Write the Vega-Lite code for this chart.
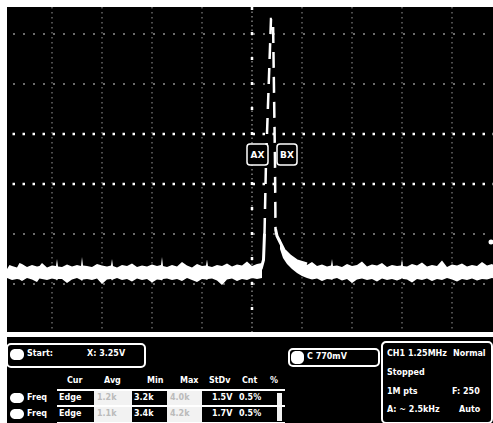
{
  "$schema": "https://vega.github.io/schema/vega-lite/v6.json",
  "background": "white",
  "padding": {"left": 5, "top": 5, "right": 0, "bottom": 0},
  "spacing": 3,
  "config": {
    "view": {"stroke": null, "fill": "black"},
    "text": {"font": "DejaVu Sans", "fontWeight": "bold", "fontSize": 9, "color": "white", "align": "left", "baseline": "middle"}
  },
  "datasets": {
    "noise": [
      {"seg": "a", "x": -4.9, "hi": 0.30, "lo": 0.12},
      {"seg": "a", "x": -4.85, "hi": 0.38, "lo": 0.10},
      {"seg": "a", "x": -4.8, "hi": 0.36, "lo": 0.08},
      {"seg": "a", "x": -4.7, "hi": 0.33, "lo": 0.10},
      {"seg": "a", "x": -4.65, "hi": 0.42, "lo": 0.09},
      {"seg": "a", "x": -4.6, "hi": 0.40, "lo": 0.06},
      {"seg": "a", "x": -4.5, "hi": 0.34, "lo": 0.12},
      {"seg": "a", "x": -4.4, "hi": 0.38, "lo": 0.09},
      {"seg": "a", "x": -4.3, "hi": 0.35, "lo": 0.04},
      {"seg": "a", "x": -4.25, "hi": 0.36, "lo": 0.11},
      {"seg": "a", "x": -4.2, "hi": 0.42, "lo": 0.10},
      {"seg": "a", "x": -4.1, "hi": 0.33, "lo": 0.08},
      {"seg": "a", "x": -4.0, "hi": 0.37, "lo": 0.11},
      {"seg": "a", "x": -3.92, "hi": 0.36, "lo": 0.09},
      {"seg": "a", "x": -3.9, "hi": 0.50, "lo": 0.07},
      {"seg": "a", "x": -3.88, "hi": 0.35, "lo": 0.10},
      {"seg": "a", "x": -3.8, "hi": 0.34, "lo": 0.10},
      {"seg": "a", "x": -3.7, "hi": 0.39, "lo": 0.02},
      {"seg": "a", "x": -3.6, "hi": 0.35, "lo": 0.09},
      {"seg": "a", "x": -3.5, "hi": 0.38, "lo": 0.12},
      {"seg": "a", "x": -3.42, "hi": 0.36, "lo": 0.08},
      {"seg": "a", "x": -3.4, "hi": 0.54, "lo": 0.06},
      {"seg": "a", "x": -3.38, "hi": 0.37, "lo": 0.09},
      {"seg": "a", "x": -3.3, "hi": 0.36, "lo": 0.10},
      {"seg": "a", "x": -3.2, "hi": 0.34, "lo": 0.08},
      {"seg": "a", "x": -3.1, "hi": 0.40, "lo": 0.11},
      {"seg": "a", "x": -3.0, "hi": 0.37, "lo": 0.00},
      {"seg": "a", "x": -2.9, "hi": 0.35, "lo": 0.09},
      {"seg": "a", "x": -2.82, "hi": 0.37, "lo": 0.10},
      {"seg": "a", "x": -2.8, "hi": 0.50, "lo": 0.07},
      {"seg": "a", "x": -2.78, "hi": 0.36, "lo": 0.09},
      {"seg": "a", "x": -2.7, "hi": 0.33, "lo": 0.12},
      {"seg": "a", "x": -2.6, "hi": 0.38, "lo": 0.08},
      {"seg": "a", "x": -2.5, "hi": 0.36, "lo": 0.10},
      {"seg": "a", "x": -2.4, "hi": 0.41, "lo": 0.05},
      {"seg": "a", "x": -2.3, "hi": 0.34, "lo": 0.11},
      {"seg": "a", "x": -2.2, "hi": 0.37, "lo": 0.08},
      {"seg": "a", "x": -2.1, "hi": 0.35, "lo": 0.10},
      {"seg": "a", "x": -2.0, "hi": 0.39, "lo": 0.03},
      {"seg": "a", "x": -1.9, "hi": 0.36, "lo": 0.09},
      {"seg": "a", "x": -1.82, "hi": 0.38, "lo": 0.08},
      {"seg": "a", "x": -1.8, "hi": 0.54, "lo": 0.07},
      {"seg": "a", "x": -1.78, "hi": 0.36, "lo": 0.10},
      {"seg": "a", "x": -1.7, "hi": 0.34, "lo": 0.11},
      {"seg": "a", "x": -1.6, "hi": 0.38, "lo": 0.08},
      {"seg": "a", "x": -1.5, "hi": 0.35, "lo": 0.10},
      {"seg": "a", "x": -1.4, "hi": 0.44, "lo": 0.06},
      {"seg": "a", "x": -1.3, "hi": 0.37, "lo": 0.12},
      {"seg": "a", "x": -1.2, "hi": 0.33, "lo": 0.08},
      {"seg": "a", "x": -1.1, "hi": 0.40, "lo": 0.04},
      {"seg": "a", "x": -1.0, "hi": 0.36, "lo": 0.10},
      {"seg": "a", "x": -0.92, "hi": 0.37, "lo": 0.09},
      {"seg": "a", "x": -0.9, "hi": 0.49, "lo": 0.08},
      {"seg": "a", "x": -0.88, "hi": 0.36, "lo": 0.10},
      {"seg": "a", "x": -0.8, "hi": 0.34, "lo": 0.11},
      {"seg": "a", "x": -0.7, "hi": 0.38, "lo": 0.07},
      {"seg": "a", "x": -0.6, "hi": 0.36, "lo": -0.02},
      {"seg": "a", "x": -0.5, "hi": 0.41, "lo": 0.09},
      {"seg": "a", "x": -0.4, "hi": 0.35, "lo": 0.11},
      {"seg": "a", "x": -0.3, "hi": 0.39, "lo": 0.06},
      {"seg": "a", "x": -0.2, "hi": 0.37, "lo": 0.10},
      {"seg": "a", "x": -0.1, "hi": 0.45, "lo": 0.08},
      {"seg": "a", "x": 0.0, "hi": 0.36, "lo": 0.12},
      {"seg": "a", "x": 0.1, "hi": 0.40, "lo": 0.10},
      {"seg": "a", "x": 0.2, "hi": 0.42, "lo": 0.12},
      {"seg": "b", "x": 0.56, "hi": 0.90, "lo": 0.70},
      {"seg": "b", "x": 0.62, "hi": 0.74, "lo": 0.52},
      {"seg": "b", "x": 0.70, "hi": 0.62, "lo": 0.40},
      {"seg": "b", "x": 0.80, "hi": 0.52, "lo": 0.30},
      {"seg": "b", "x": 0.90, "hi": 0.46, "lo": 0.22},
      {"seg": "b", "x": 1.0, "hi": 0.42, "lo": 0.16},
      {"seg": "b", "x": 1.1, "hi": 0.38, "lo": 0.12},
      {"seg": "b", "x": 1.2, "hi": 0.44, "lo": 0.09},
      {"seg": "b", "x": 1.3, "hi": 0.36, "lo": 0.11},
      {"seg": "b", "x": 1.4, "hi": 0.39, "lo": 0.06},
      {"seg": "b", "x": 1.5, "hi": 0.35, "lo": 0.10},
      {"seg": "b", "x": 1.58, "hi": 0.37, "lo": 0.09},
      {"seg": "b", "x": 1.6, "hi": 0.50, "lo": 0.08},
      {"seg": "b", "x": 1.62, "hi": 0.36, "lo": 0.10},
      {"seg": "b", "x": 1.7, "hi": 0.37, "lo": 0.12},
      {"seg": "b", "x": 1.8, "hi": 0.34, "lo": 0.07},
      {"seg": "b", "x": 1.9, "hi": 0.40, "lo": 0.10},
      {"seg": "b", "x": 2.0, "hi": 0.36, "lo": 0.02},
      {"seg": "b", "x": 2.1, "hi": 0.38, "lo": 0.09},
      {"seg": "b", "x": 2.2, "hi": 0.45, "lo": 0.11},
      {"seg": "b", "x": 2.3, "hi": 0.35, "lo": 0.08},
      {"seg": "b", "x": 2.4, "hi": 0.39, "lo": 0.10},
      {"seg": "b", "x": 2.5, "hi": 0.37, "lo": 0.05},
      {"seg": "b", "x": 2.6, "hi": 0.42, "lo": 0.11},
      {"seg": "b", "x": 2.7, "hi": 0.34, "lo": 0.08},
      {"seg": "b", "x": 2.8, "hi": 0.38, "lo": 0.10},
      {"seg": "b", "x": 2.9, "hi": 0.36, "lo": 0.07},
      {"seg": "b", "x": 2.98, "hi": 0.37, "lo": 0.10},
      {"seg": "b", "x": 3.0, "hi": 0.50, "lo": 0.12},
      {"seg": "b", "x": 3.02, "hi": 0.36, "lo": 0.10},
      {"seg": "b", "x": 3.1, "hi": 0.35, "lo": 0.09},
      {"seg": "b", "x": 3.2, "hi": 0.40, "lo": 0.03},
      {"seg": "b", "x": 3.3, "hi": 0.37, "lo": 0.10},
      {"seg": "b", "x": 3.4, "hi": 0.43, "lo": 0.08},
      {"seg": "b", "x": 3.5, "hi": 0.35, "lo": 0.11},
      {"seg": "b", "x": 3.6, "hi": 0.38, "lo": 0.06},
      {"seg": "b", "x": 3.7, "hi": 0.36, "lo": 0.10},
      {"seg": "b", "x": 3.8, "hi": 0.47, "lo": 0.08},
      {"seg": "b", "x": 3.9, "hi": 0.34, "lo": 0.12},
      {"seg": "b", "x": 4.0, "hi": 0.39, "lo": 0.09},
      {"seg": "b", "x": 4.1, "hi": 0.37, "lo": 0.05},
      {"seg": "b", "x": 4.2, "hi": 0.41, "lo": 0.10},
      {"seg": "b", "x": 4.3, "hi": 0.35, "lo": 0.08},
      {"seg": "b", "x": 4.4, "hi": 0.38, "lo": 0.11},
      {"seg": "b", "x": 4.5, "hi": 0.36, "lo": 0.07},
      {"seg": "b", "x": 4.6, "hi": 0.44, "lo": 0.10},
      {"seg": "b", "x": 4.7, "hi": 0.37, "lo": 0.09},
      {"seg": "b", "x": 4.8, "hi": 0.40, "lo": 0.12},
      {"seg": "b", "x": 4.86, "hi": 0.36, "lo": 0.10}
    ],
    "peak": [
      {"x": 0.25, "y": 1.0},
      {"x": 0.28, "y": 2.44},
      {"x": 0.38, "y": 5.3},
      {"x": 0.42, "y": 5.3},
      {"x": 0.46, "y": 2.44},
      {"x": 0.47, "y": 1.1}
    ],
    "tail": [
      {"seg": "l", "x": 0.18, "y": 0.30},
      {"seg": "l", "x": 0.23, "y": 0.48},
      {"seg": "l", "x": 0.25, "y": 1.0},
      {"seg": "r", "x": 0.47, "y": 1.1},
      {"seg": "r", "x": 0.50, "y": 0.96},
      {"seg": "r", "x": 0.56, "y": 0.84},
      {"seg": "r", "x": 0.64, "y": 0.68},
      {"seg": "r", "x": 0.76, "y": 0.56},
      {"seg": "r", "x": 0.90, "y": 0.46},
      {"seg": "r", "x": 1.10, "y": 0.40}
    ]
  },
  "vconcat": [
    {
      "width": 488,
      "height": 325,
      "layer": [
        {
          "data": {"values": [{"v": -4}, {"v": -3}, {"v": -2}, {"v": -1}, {"v": 1}, {"v": 2}, {"v": 3}, {"v": 4}]},
          "mark": {"type": "rule", "color": "#808080", "strokeDash": [1.5, 3.5], "strokeWidth": 1.2},
          "encoding": {"x": {"field": "v", "type": "quantitative", "scale": {"domain": [-4.9, 4.86], "nice": false, "zero": false}, "axis": null}}
        },
        {
          "data": {"values": [{"v": 0}, {"v": 1}, {"v": 4}, {"v": 5}]},
          "mark": {"type": "rule", "color": "#909090", "strokeDash": [2, 8], "strokeWidth": 1.5},
          "encoding": {"y": {"field": "v", "type": "quantitative", "scale": {"domain": [-0.96, 5.54], "nice": false, "zero": false}, "axis": null}}
        },
        {
          "data": {"values": [{"v": 2}, {"v": 3}]},
          "mark": {"type": "rule", "color": "white", "strokeDash": [2.5, 7.5], "strokeWidth": 2.5},
          "encoding": {"y": {"field": "v", "type": "quantitative", "scale": {"domain": [-0.96, 5.54], "nice": false, "zero": false}, "axis": null}}
        },
        {
          "data": {"values": [{"v": 0}]},
          "mark": {"type": "rule", "color": "#a0a0a0", "strokeDash": [1.5, 3], "strokeWidth": 1.2},
          "encoding": {"x": {"field": "v", "type": "quantitative", "scale": {"domain": [-4.9, 4.86], "nice": false, "zero": false}, "axis": null}}
        },
        {
          "data": {"values": [{"v": 0}]},
          "mark": {"type": "rule", "color": "white", "strokeDash": [3, 22], "strokeWidth": 2.5},
          "encoding": {"x": {"field": "v", "type": "quantitative", "scale": {"domain": [-4.9, 4.86], "nice": false, "zero": false}, "axis": null}}
        },
        {
          "data": {"name": "noise"},
          "mark": {"type": "area", "color": "white", "opacity": 1},
          "encoding": {
            "x": {"field": "x", "type": "quantitative", "scale": {"domain": [-4.9, 4.86], "nice": false, "zero": false}, "axis": null},
            "y": {"field": "hi", "type": "quantitative", "scale": {"domain": [-0.96, 5.54], "nice": false, "zero": false}, "axis": null},
            "y2": {"field": "lo"},
            "detail": {"field": "seg", "type": "nominal"}
          }
        },
        {
          "data": {"name": "tail"},
          "mark": {"type": "line", "color": "white", "strokeWidth": 3},
          "encoding": {
            "x": {"field": "x", "type": "quantitative", "scale": {"domain": [-4.9, 4.86], "nice": false, "zero": false}, "axis": null},
            "y": {"field": "y", "type": "quantitative", "scale": {"domain": [-0.96, 5.54], "nice": false, "zero": false}, "axis": null},
            "detail": {"field": "seg", "type": "nominal"},
            "order": {"field": "x", "type": "quantitative"}
          }
        },
        {
          "data": {"name": "peak"},
          "mark": {"type": "line", "color": "white", "strokeWidth": 2.5, "strokeDash": [16, 9]},
          "encoding": {
            "x": {"field": "x", "type": "quantitative", "scale": {"domain": [-4.9, 4.86], "nice": false, "zero": false}, "axis": null},
            "y": {"field": "y", "type": "quantitative", "scale": {"domain": [-0.96, 5.54], "nice": false, "zero": false}, "axis": null},
            "order": {"field": "x", "type": "quantitative"}
          }
        },
        {
          "data": {"values": [
            {"x1": -0.1, "x2": 0.32, "y1": 2.8, "y2": 2.38},
            {"x1": 0.5, "x2": 0.9, "y1": 2.8, "y2": 2.38}
          ]},
          "mark": {"type": "rect", "fill": "black", "stroke": "white", "strokeWidth": 1.5, "cornerRadius": 3},
          "encoding": {
            "x": {"field": "x1", "type": "quantitative", "scale": {"domain": [-4.9, 4.86], "nice": false, "zero": false}, "axis": null},
            "x2": {"field": "x2"},
            "y": {"field": "y1", "type": "quantitative", "scale": {"domain": [-0.96, 5.54], "nice": false, "zero": false}, "axis": null},
            "y2": {"field": "y2"}
          }
        },
        {
          "data": {"values": [
            {"label": "AX", "xc": 0.11, "yc": 2.59},
            {"label": "BX", "xc": 0.7, "yc": 2.59}
          ]},
          "mark": {"type": "text", "align": "center", "fontSize": 9},
          "encoding": {
            "x": {"field": "xc", "type": "quantitative", "scale": {"domain": [-4.9, 4.86], "nice": false, "zero": false}, "axis": null},
            "y": {"field": "yc", "type": "quantitative", "scale": {"domain": [-0.96, 5.54], "nice": false, "zero": false}, "axis": null},
            "text": {"field": "label"}
          }
        },
        {
          "data": {"values": [{"x": 4.78, "y": 0.84}]},
          "mark": {"type": "point", "filled": true, "color": "white", "size": 25, "opacity": 1},
          "encoding": {
            "x": {"field": "x", "type": "quantitative", "scale": {"domain": [-4.9, 4.86], "nice": false, "zero": false}, "axis": null},
            "y": {"field": "y", "type": "quantitative", "scale": {"domain": [-0.96, 5.54], "nice": false, "zero": false}, "axis": null}
          }
        }
      ]
    },
    {
      "width": 488,
      "height": 87,
      "layer": [
        {
          "data": {"values": [
            {"x1": 0, "x2": 138, "y1": 7, "y2": 30},
            {"x1": 282, "x2": 372, "y1": 12, "y2": 29},
            {"x1": 375, "x2": 485, "y1": 5, "y2": 86}
          ]},
          "mark": {"type": "rect", "fill": "black", "stroke": "white", "strokeWidth": 2, "cornerRadius": 4},
          "encoding": {
            "x": {"field": "x1", "type": "quantitative", "scale": {"domain": [0, 488], "nice": false, "zero": false}, "axis": null},
            "x2": {"field": "x2"},
            "y": {"field": "y1", "type": "quantitative", "scale": {"domain": [0, 87], "nice": false, "zero": false, "reverse": true}, "axis": null},
            "y2": {"field": "y2"}
          }
        },
        {
          "data": {"values": [
            {"x1": 3, "x2": 17, "y1": 12, "y2": 23},
            {"x1": 3, "x2": 17, "y1": 56, "y2": 66},
            {"x1": 3, "x2": 17, "y1": 72, "y2": 82},
            {"x1": 284, "x2": 297, "y1": 14, "y2": 27}
          ]},
          "mark": {"type": "rect", "fill": "white", "cornerRadius": 5},
          "encoding": {
            "x": {"field": "x1", "type": "quantitative", "scale": {"domain": [0, 488], "nice": false, "zero": false}, "axis": null},
            "x2": {"field": "x2"},
            "y": {"field": "y1", "type": "quantitative", "scale": {"domain": [0, 87], "nice": false, "zero": false, "reverse": true}, "axis": null},
            "y2": {"field": "y2"}
          }
        },
        {
          "data": {"values": [
            {"x1": 87, "x2": 125, "y1": 54, "y2": 86},
            {"x1": 160, "x2": 195, "y1": 54, "y2": 86},
            {"x1": 270, "x2": 275, "y1": 56, "y2": 84}
          ]},
          "mark": {"type": "rect", "fill": "#f2f2f2"},
          "encoding": {
            "x": {"field": "x1", "type": "quantitative", "scale": {"domain": [0, 488], "nice": false, "zero": false}, "axis": null},
            "x2": {"field": "x2"},
            "y": {"field": "y1", "type": "quantitative", "scale": {"domain": [0, 87], "nice": false, "zero": false, "reverse": true}, "axis": null},
            "y2": {"field": "y2"}
          }
        },
        {
          "data": {"values": [
            {"x1": 50, "x2": 278, "y": 53},
            {"x1": 50, "x2": 278, "y": 69},
            {"x1": 50, "x2": 278, "y": 86}
          ]},
          "mark": {"type": "rule", "color": "white", "strokeWidth": 2},
          "encoding": {
            "x": {"field": "x1", "type": "quantitative", "scale": {"domain": [0, 488], "nice": false, "zero": false}, "axis": null},
            "x2": {"field": "x2"},
            "y": {"field": "y", "type": "quantitative", "scale": {"domain": [0, 87], "nice": false, "zero": false, "reverse": true}, "axis": null}
          }
        },
        {
          "data": {"values": [
            {"x": 20, "y": 17, "t": "Start:"},
            {"x": 80, "y": 17, "t": "X: 3.25V"},
            {"x": 60, "y": 44, "t": "Cur"},
            {"x": 97, "y": 44, "t": "Avg"},
            {"x": 140, "y": 44, "t": "Min"},
            {"x": 173, "y": 44, "t": "Max"},
            {"x": 202, "y": 44, "t": "StDv"},
            {"x": 235, "y": 44, "t": "Cnt"},
            {"x": 263, "y": 44, "t": "%"},
            {"x": 20, "y": 61, "t": "Freq"},
            {"x": 52, "y": 61, "t": "Edge"},
            {"x": 127, "y": 61, "t": "3.2k"},
            {"x": 205, "y": 61, "t": "1.5V"},
            {"x": 232, "y": 61, "t": "0.5%"},
            {"x": 20, "y": 77, "t": "Freq"},
            {"x": 52, "y": 77, "t": "Edge"},
            {"x": 127, "y": 77, "t": "3.4k"},
            {"x": 205, "y": 77, "t": "1.7V"},
            {"x": 232, "y": 77, "t": "0.5%"},
            {"x": 300, "y": 20, "t": "C  770mV"},
            {"x": 380, "y": 17, "t": "CH1 1.25MHz"},
            {"x": 446, "y": 17, "t": "Normal"},
            {"x": 380, "y": 36, "t": "Stopped"},
            {"x": 380, "y": 55, "t": "1M pts"},
            {"x": 445, "y": 55, "t": "F: 250"},
            {"x": 380, "y": 73, "t": "A: ~ 2.5kHz"},
            {"x": 452, "y": 73, "t": "Auto"}
          ]},
          "mark": {"type": "text", "fontSize": 8},
          "encoding": {
            "x": {"field": "x", "type": "quantitative", "scale": {"domain": [0, 488], "nice": false, "zero": false}, "axis": null},
            "y": {"field": "y", "type": "quantitative", "scale": {"domain": [0, 87], "nice": false, "zero": false, "reverse": true}, "axis": null},
            "text": {"field": "t"}
          }
        },
        {
          "data": {"values": [
            {"x": 90, "y": 61, "t": "1.2k"},
            {"x": 163, "y": 61, "t": "4.0k"},
            {"x": 90, "y": 77, "t": "1.1k"},
            {"x": 163, "y": 77, "t": "4.2k"}
          ]},
          "mark": {"type": "text", "fontSize": 8, "color": "#bbbbbb"},
          "encoding": {
            "x": {"field": "x", "type": "quantitative", "scale": {"domain": [0, 488], "nice": false, "zero": false}, "axis": null},
            "y": {"field": "y", "type": "quantitative", "scale": {"domain": [0, 87], "nice": false, "zero": false, "reverse": true}, "axis": null},
            "text": {"field": "t"}
          }
        }
      ]
    }
  ]
}
